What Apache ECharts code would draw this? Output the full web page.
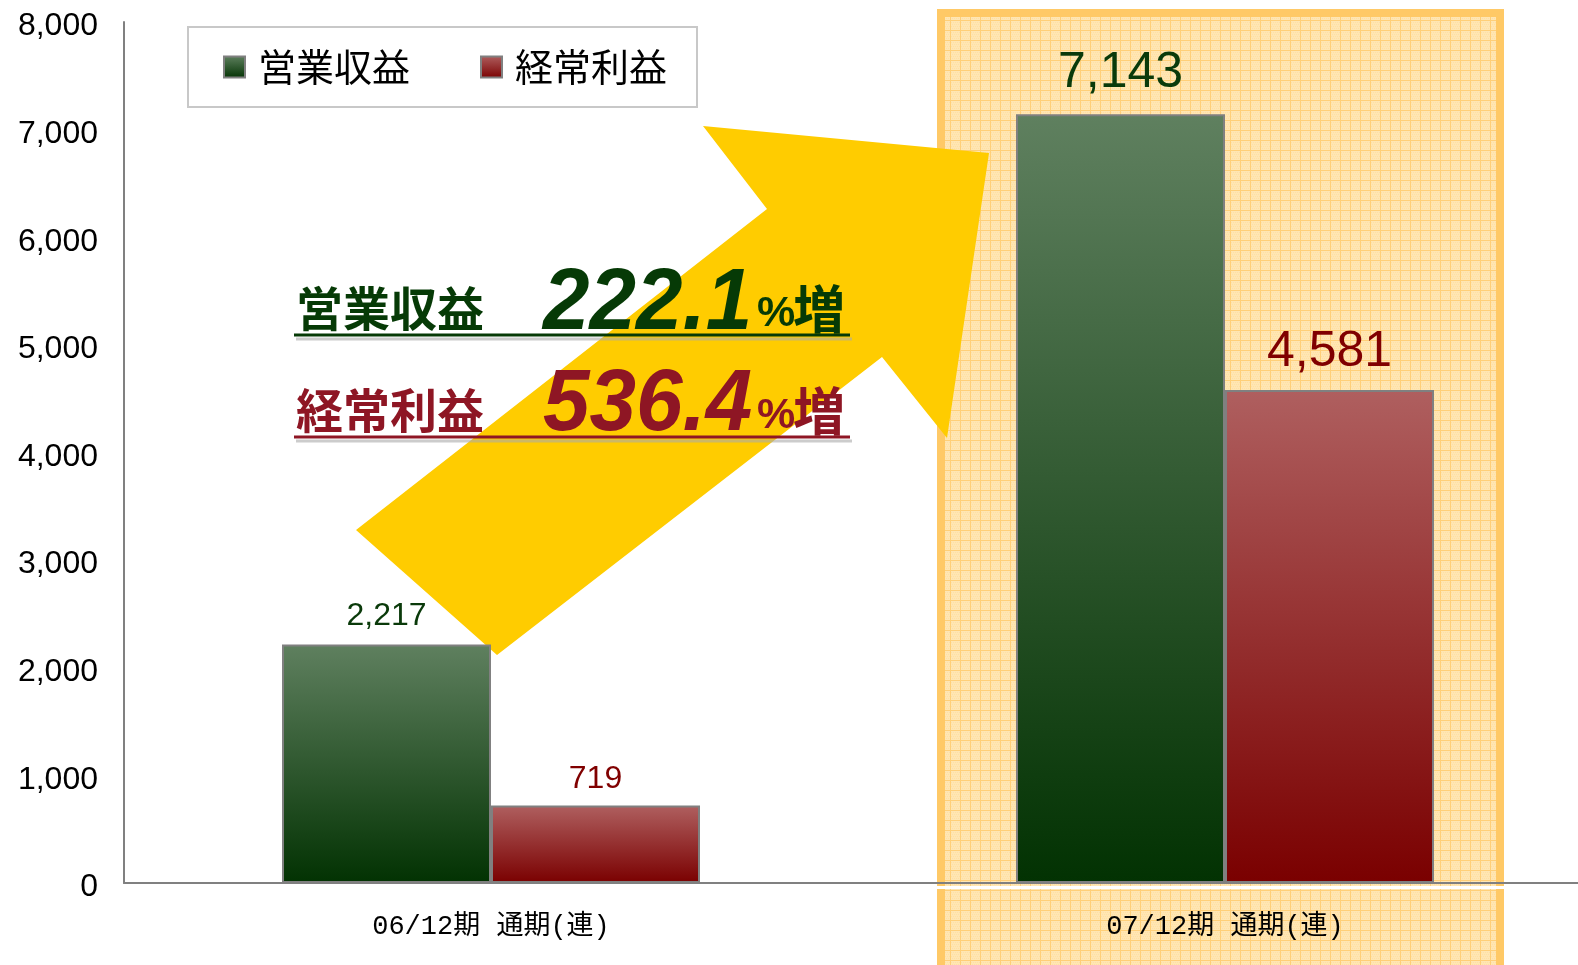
<!DOCTYPE html>
<html><head><meta charset="utf-8">
<script src="https://cdn.jsdelivr.net/npm/echarts/dist/echarts.min.js"></script>
<style>html,body{margin:0;padding:0;background:#fff;overflow:hidden}#main{width:1592px;height:965px}</style>
</head><body><div id="main"></div>
<script>
// ---- data ----
const categories = ['06/12期 通期(連)', '07/12期 通期(連)'];
const seriesNames = ['営業収益', '経常利益'];
const operatingRevenue = [2217, 7143];
const ordinaryProfit = [719, 4581];
const yMin = 0, yMax = 8000, yInterval = 1000;
const growthRevenue = '222.1';
const growthProfit = '536.4';
const growthSuffix = ['%', '増'];

// ---- styles ----
const GREEN = '#063A06', RED = '#8E1624';
const latin = '"Liberation Sans",Arial,sans-serif';
const cjk = '"Noto Sans CJK JP",sans-serif';

const pc = document.createElement('canvas'); pc.width = 10; pc.height = 10;
const g = pc.getContext('2d');
g.fillStyle = '#FFE6B3'; g.fillRect(0, 0, 10, 10);
g.fillStyle = '#FFDFA4';
for (let i = 0; i < 10; i += 2) for (let j = 0; j < 10; j += 2) g.fillRect(i + ((j/2)%2), j, 1, 1);
g.fillStyle = '#FFCF78'; g.fillRect(0, 0, 10, 1); g.fillRect(0, 0, 1, 10);

const chart = echarts.init(document.getElementById('main'), null, {renderer: 'canvas'});
const fmt = v => Number(v).toLocaleString('en-US');

function barSeries(name, values, top, bottom, labelColor, sizes, dists) {
  return {
    name, type: 'bar', barWidth: 209, barGap: '0%',
    data: values.map((v, i) => ({value: v, label: {fontSize: sizes[i], distance: dists[i]}})),
    itemStyle: {
      color: new echarts.graphic.LinearGradient(0, 0, 0, 1, [{offset: 0, color: top}, {offset: 1, color: bottom}]),
      borderColor: '#808080', borderWidth: 2
    },
    label: {
      show: true, position: 'top', color: labelColor, fontFamily: latin,
      formatter: p => fmt(p.value),
      textShadowColor: '#ffffff', textShadowOffsetX: 4, textShadowOffsetY: 4, textShadowBlur: 0
    }
  };
}

function txt(x, y, text, size, color, family, style, weight, scaleX) {
  return {
    type: 'text', x, y, z: 20, scaleX: scaleX || 1,
    style: {
      text, fill: color, fontSize: size, fontFamily: family, fontStyle: style || 'normal',
      fontWeight: weight || 'bold', verticalAlign: 'bottom', align: 'left',
      textShadowColor: 'rgba(120,120,120,0.55)', textShadowOffsetX: 4, textShadowOffsetY: 4, textShadowBlur: 0
    }
  };
}
function uline(y, color) {
  return {type: 'line', z: 19, shape: {x1: 294, y1: y, x2: 850, y2: y},
    style: {stroke: color, lineWidth: 3, shadowColor: 'rgba(170,170,170,0.6)', shadowOffsetY: 4, shadowOffsetX: 2, shadowBlur: 0}};
}

const option = {
  backgroundColor: '#ffffff',
  animation: false,
  grid: {left: 124, right: 0, top: 22, bottom: 82, containLabel: false},
  legend: {
    data: seriesNames, left: 188, top: 27, icon: 'rect', itemWidth: 21, itemHeight: 21, itemGap: 70,
    padding: [21, 30, 21, 35], borderColor: '#C8C8C8', borderWidth: 2, backgroundColor: '#fff',
    textStyle: {fontSize: 38, color: '#000', fontFamily: cjk, padding: [0, 0, 0, 8]}
  },
  xAxis: {
    type: 'category', data: categories,
    axisLine: {show: true, lineStyle: {color: '#808080', width: 2}},
    axisTick: {show: false},
    axisLabel: {fontSize: 27, color: '#000', fontFamily: '"Liberation Mono","Noto Sans CJK JP",monospace', margin: 30}
  },
  yAxis: {
    type: 'value', min: yMin, max: yMax, interval: yInterval,
    splitLine: {show: false},
    axisLine: {show: true, lineStyle: {color: '#808080', width: 2}},
    axisTick: {show: false},
    axisLabel: {
      margin: 26, formatter: v => '{a|' + fmt(v) + '}',
      rich: {a: {fontSize: 32, color: '#000', fontFamily: latin, padding: [9, 0, 0, 0]}}
    }
  },
  series: [
    barSeries(seriesNames[0], operatingRevenue, '#5F805F', '#023202', '#0A3A0A', [32, 50], [12, 16]),
    barSeries(seriesNames[1], ordinaryProfit, '#AF5F5F', '#7A0000', '#800000', [32, 50], [10, 13])
  ],
  graphic: [
    {type: 'rect', z: -10, shape: {x: 937, y: 9, width: 567, height: 980}, style: {fill: '#FFC966'}},
    {type: 'rect', z: -9, shape: {x: 945, y: 17, width: 551, height: 970}, style: {fill: {image: pc, repeat: 'repeat'}}},
    {type: 'rect', z: -8, shape: {x: 937, y: 886, width: 567, height: 3}, style: {fill: '#ffffff'}},
    {type: 'polygon', z: 1, shape: {points: [[703,126],[989,153],[947,438],[882,357],[497,655],[356,530],[767,209]]}, style: {fill: '#FFCC00'}},
    uline(335, GREEN),
    uline(437, RED),
    txt(296, 332, seriesNames[0], 47, GREEN, cjk),
    txt(543, 349, growthRevenue, 88, GREEN, latin, 'italic', 'bold', 0.95),
    txt(757, 336, growthSuffix[0], 43, GREEN, latin),
    txt(793, 335, growthSuffix[1], 52, GREEN, cjk),
    txt(296, 434, seriesNames[1], 47, RED, cjk),
    txt(543, 450, growthProfit, 88, RED, latin, 'italic', 'bold', 0.95),
    txt(757, 438, growthSuffix[0], 43, RED, latin),
    txt(793, 437, growthSuffix[1], 52, RED, cjk)
  ]
};
chart.setOption(option);
</script>
</body></html>
